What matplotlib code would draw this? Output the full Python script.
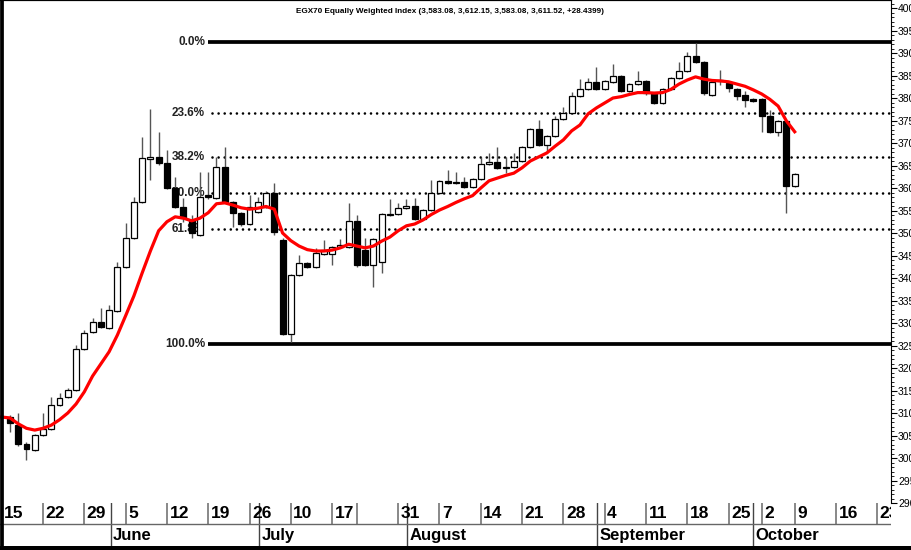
import matplotlib
matplotlib.use("Agg")
import matplotlib.pyplot as plt
from matplotlib.lines import Line2D
from matplotlib.ticker import MultipleLocator
import numpy as np

plt.rcParams['font.family'] = ['Liberation Sans', 'DejaVu Sans']

title = "EGX70 Equally Weighted Index (3,583.08, 3,612.15, 3,583.08, 3,611.52, +28.4399)"

# daily candles (trading-day index 1..96)
opens = [3091, 3073, 3031, 3018, 3051, 3064, 3118, 3136, 3151, 3242,
         3280, 3302, 3289, 3327, 3424, 3489, 3569, 3665, 3669, 3656,
         3600, 3558, 3529, 3496, 3584, 3578, 3647, 3569, 3544, 3520,
         3547, 3558, 3589, 3484, 3276, 3407, 3433, 3424, 3453, 3453,
         3469, 3469, 3527, 3462, 3429, 3435, 3540, 3542, 3556, 3560,
         3531, 3551, 3589, 3616, 3613, 3613, 3602, 3620, 3653, 3658,
         3644, 3647, 3660, 3691, 3731, 3696, 3716, 3753, 3767, 3804,
         3820, 3836, 3820, 3836, 3849, 3816, 3831, 3838, 3811, 3789,
         3820, 3845, 3860, 3893, 3880, 3807, 3838, 3833, 3820, 3806,
         3798, 3798, 3760, 3724, 3749, 3604]
highs = [3096, 3100, 3036, 3053, 3100, 3136, 3144, 3156, 3251, 3285,
         3311, 3333, 3340, 3436, 3522, 3580, 3713, 3776, 3724, 3685,
         3624, 3578, 3540, 3636, 3636, 3669, 3691, 3571, 3547, 3585,
         3580, 3593, 3611, 3489, 3409, 3451, 3436, 3467, 3484, 3471,
         3487, 3567, 3540, 3489, 3489, 3544, 3576, 3567, 3576, 3578,
         3553, 3618, 3618, 3640, 3636, 3625, 3622, 3669, 3678, 3691,
         3669, 3678, 3693, 3733, 3751, 3718, 3760, 3780, 3813, 3842,
         3845, 3869, 3840, 3876, 3851, 3833, 3860, 3840, 3813, 3822,
         3847, 3880, 3902, 3922, 3882, 3838, 3862, 3836, 3822, 3816,
         3800, 3800, 3773, 3751, 3751, 3633]
lows = [3058, 3027, 2996, 3016, 3049, 3062, 3116, 3133, 3149, 3240,
        3278, 3289, 3287, 3325, 3422, 3487, 3567, 3618, 3651, 3598,
        3556, 3524, 3489, 3494, 3576, 3576, 3567, 3513, 3515, 3518,
        3544, 3556, 3496, 3273, 3258, 3405, 3422, 3422, 3451, 3429,
        3467, 3467, 3424, 3427, 3380, 3411, 3538, 3540, 3553, 3529,
        3529, 3549, 3587, 3609, 3609, 3600, 3600, 3618, 3651, 3642,
        3633, 3644, 3658, 3689, 3693, 3680, 3713, 3751, 3764, 3802,
        3818, 3818, 3818, 3833, 3813, 3813, 3829, 3807, 3787, 3787,
        3818, 3842, 3858, 3878, 3807, 3804, 3829, 3813, 3796, 3780,
        3791, 3724, 3722, 3716, 3544, 3602]
closes = [3078, 3031, 3020, 3051, 3064, 3118, 3133, 3151, 3242, 3278,
          3302, 3291, 3329, 3424, 3489, 3569, 3667, 3669, 3656, 3600,
          3558, 3533, 3500, 3580, 3580, 3647, 3569, 3544, 3520, 3558,
          3569, 3589, 3502, 3276, 3407, 3433, 3424, 3456, 3462, 3469,
          3473, 3527, 3429, 3429, 3487, 3542, 3542, 3556, 3560, 3531,
          3551, 3589, 3616, 3611, 3611, 3602, 3620, 3653, 3658, 3644,
          3647, 3660, 3691, 3731, 3696, 3716, 3753, 3767, 3804, 3820,
          3836, 3820, 3838, 3849, 3816, 3831, 3838, 3811, 3789, 3820,
          3845, 3860, 3893, 3880, 3811, 3836, 3840, 3822, 3804, 3796,
          3793, 3760, 3724, 3749, 3604, 3631]

# red moving average, index 0..96
ma = [3091, 3089, 3076, 3066, 3062, 3066, 3073, 3085, 3100, 3120,
      3147, 3182, 3209, 3236, 3273, 3316, 3360, 3411, 3460, 3505,
      3525, 3536, 3533, 3527, 3533, 3545, 3565, 3567, 3562, 3556,
      3553, 3555, 3559, 3553, 3500, 3483, 3471, 3463, 3460, 3460,
      3462, 3467, 3475, 3471, 3467, 3471, 3482, 3491, 3505, 3516,
      3520, 3529, 3541, 3551, 3559, 3568, 3576, 3583, 3600, 3616,
      3622, 3628, 3633, 3645, 3660, 3669, 3678, 3693, 3707, 3727,
      3740, 3765, 3778, 3789, 3800, 3803, 3808, 3812, 3812, 3811,
      3812, 3819, 3831, 3840, 3847, 3842, 3839, 3838, 3836, 3831,
      3826, 3818, 3809, 3797, 3782, 3749, 3725]

fib_high = 3924
fib_low = 3254
fib_pcts = [0.0, 23.6, 38.2, 50.0, 61.8, 100.0]

week_idx = [0, 5, 10, 15, 20, 25, 30, 35, 40, 43, 48, 53, 58, 63, 68, 73,
            78, 83, 88, 92, 96, 101, 106]
week_lbl = ['15', '22', '29', '5', '12', '19', '26', '10', '17', '', '31', '7',
            '14', '21', '28', '4', '11', '18', '25', '2', '9', '16', '23']
month_pos = [13.2, 31.2, 49.1, 72.1, 91.0]
month_lbl = ['June', 'July', 'August', 'September', 'October']

W, H = 911, 550
fig = plt.figure(figsize=(W / 100, H / 100), dpi=100)
ax = fig.add_axes([0, 1 - 503 / H, 891 / W, 503 / H])
xmin, xmax = -0.206, 107.66
ax.set_xlim(xmin, xmax)
ax.set_ylim(2900, 4017.8)

idx = np.arange(1, len(opens) + 1)
o = np.array(opens, float)
c = np.array(closes, float)
ax.vlines(idx, lows, highs, color='#555555', lw=1.0, zorder=3)
up = c >= o
bottom = np.minimum(o, c)
height = np.maximum(np.abs(c - o), 1.5)
ax.bar(idx[up], height[up], bottom=bottom[up], width=0.72,
       facecolor='white', edgecolor='black', lw=0.9, zorder=4)
ax.bar(idx[~up], height[~up], bottom=bottom[~up], width=0.72,
       facecolor='black', edgecolor='black', lw=0.9, zorder=4)

ax.plot(np.arange(len(ma)), ma, color='#ff0000', lw=2.3, zorder=5,
        solid_joinstyle='round')

# fibonacci retracement
x_lab = 24.6
for p in fib_pcts:
    lvl = fib_high - (fib_high - fib_low) * p / 100
    if p in (0.0, 100.0):
        ax.plot([25.0, xmax], [lvl, lvl], color='black', lw=2.7, zorder=2,
                solid_capstyle='butt')
    else:
        ax.plot([25.4, xmax], [lvl, lvl], color='black', lw=1.9, zorder=2,
                linestyle=(0, (0.01, 2.3)), dash_capstyle='round')
    ax.text(x_lab, lvl, f"{p:.1f}%", ha='right', va='center', fontsize=8.5,
            fontweight='bold', color='#222222', zorder=1)

ax.text(0.505, 0.978, title, transform=ax.transAxes, ha='center', va='center',
        fontsize=5.9, fontweight='bold', color='black')

# right price axis
ax.yaxis.tick_right()
ax.yaxis.set_minor_locator(MultipleLocator(10))
ax.set_yticks(np.arange(2900, 4001, 50))
ax.set_yticklabels([str(v) for v in range(2900, 4001, 50)])
ax.tick_params(axis='y', which='major', length=4, width=0.8, pad=1,
               labelsize=7.5, direction='out')
ax.tick_params(axis='y', which='minor', length=2.5, width=0.6, direction='out')
ax.set_xticks([])
for s in ['left', 'bottom']:
    ax.spines[s].set_visible(False)
ax.spines['top'].set_linewidth(1.6)
ax.spines['right'].set_linewidth(0.8)

# date rows
dax = fig.add_axes([0, 0, 891 / W, 47 / H])
dax.set_xlim(xmin, xmax)
dax.set_ylim(0, 47)
dax.axis('off')
row = 26
for i, lab in zip(week_idx, week_lbl):
    dax.plot([i, i], [row, 47], color='#7f7f7f', lw=1.3)
    dax.text(i + 0.3, 36.5, lab, ha='left', va='center', fontsize=12.5,
             fontweight='bold', clip_on=True)
for m, lab in zip(month_pos, month_lbl):
    dax.plot([m, m], [3, 47], color='#444444', lw=1.0)
    dax.text(m + 0.25, 14.5, lab, ha='left', va='center', fontsize=12,
             fontweight='bold', clip_on=True)
dax.plot([xmin, xmax], [row, row], color='#666666', lw=1.0)

# frame lines
fig.add_artist(Line2D([0, 1], [2.5 / H, 2.5 / H], color='black', lw=3.6))
fig.add_artist(Line2D([1.8 / W, 1.8 / W], [0, 1], color='black', lw=2.7))

fig.savefig('out.png', dpi=100)
